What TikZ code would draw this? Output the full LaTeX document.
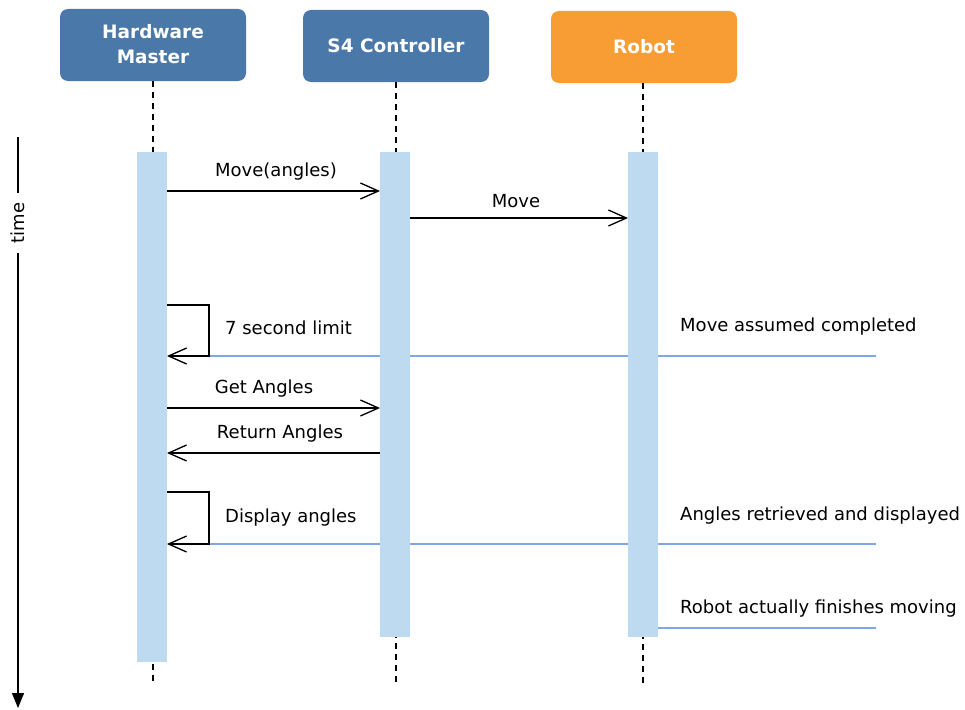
\documentclass[tikz,border=0pt]{standalone}
\usepackage{fontspec}
\setmainfont{DejaVu Sans}
\usetikzlibrary{arrows.meta}
\definecolor{hwblue}{HTML}{4A78A8}
\definecolor{robotorange}{HTML}{F79D33}
\definecolor{actbar}{HTML}{BDDAF0}
\definecolor{noteline}{HTML}{7FA6E6}
\tikzset{
  x=1pt, y=-1pt,
  actor/.style={text=white, font=\bfseries\fontsize{18.5}{25}\selectfont, align=center, inner sep=0pt},
  lifeline/.style={line width=1.2pt, dash pattern=on 6pt off 5pt},
  actbox/.style={fill=actbar, draw=none},
  msg/.style={line width=1.3pt, -{Straight Barb[length=18pt,width=16pt,line width=1.3pt]}},
  lbl/.style={font=\fontsize{18}{22}\selectfont, inner sep=0pt},
  note/.style={draw=noteline, line width=1.2pt},
}
\begin{document}
\begin{tikzpicture}
\useasboundingbox (0,0) rectangle (965,709);

% participants
\fill[hwblue, rounded corners=8pt] (60,9) rectangle (246,81);
\node[actor] (hm) at (153,44) {Hardware\\Master};
\fill[hwblue, rounded corners=8pt] (303,10) rectangle (489,82);
\node[actor] (s4) at (396,46) {S4 Controller};
\fill[robotorange, rounded corners=8pt] (551,11) rectangle (737,83);
\node[actor] (rb) at (644,47) {Robot};

% lifelines
\coordinate (hmtop) at (153,81);  \coordinate (hmbot) at (153,683);
\coordinate (s4top) at (396,82);  \coordinate (s4bot) at (396,683);
\coordinate (rbtop) at (643,83);  \coordinate (rbbot) at (643,683);
\draw[lifeline] (hmtop) -- (hmbot);
\draw[lifeline] (s4top) -- (s4bot);
\draw[lifeline] (rbtop) -- (rbbot);

% note lines (behind the activation bars)
\coordinate (n1a) at (209,356); \coordinate (n1b) at (876,356);
\coordinate (n2a) at (209,544); \coordinate (n2b) at (876,544);
\coordinate (n3a) at (658,628); \coordinate (n3b) at (876,628);
\draw[note] (n1a) -- (n1b);
\draw[note] (n2a) -- (n2b);
\draw[note] (n3a) -- (n3b);

% activation bars
\fill[actbox] (137,152) rectangle (167,662);
\fill[actbox] (380,152) rectangle (410,637);
\fill[actbox] (628,152) rectangle (658,637);

% time axis
\coordinate (t0) at (18,137);
\node[lbl, rotate=90, fill=white, inner xsep=9pt, inner ysep=1pt] (time) at (18,223) {time};
\coordinate (t1) at (18,708);
\draw[line width=1.3pt] (t0) -- (time.east);
\draw[line width=1.3pt, -{Triangle[length=15pt,width=12pt]}] (time.west) -- (t1);

% messages
\coordinate (m1a) at (167,191); \coordinate (m1b) at (380,191);
\draw[msg] (m1a) -- (m1b);
\node[lbl] (l1) at (276,172) {Move(angles)};

\coordinate (m2a) at (410,218); \coordinate (m2b) at (628,218);
\draw[msg] (m2a) -- (m2b);
\node[lbl] (l2) at (516,201) {Move};

\coordinate (s1a) at (167,305); \coordinate (s1b) at (167,356);
\draw[msg] (s1a) -- (209,305) -- (209,356) -- (s1b);
\node[lbl, anchor=west] (l3) at (225,328) {7 second limit};
\node[lbl, anchor=west] (l4) at (680,327) {Move assumed completed};

\coordinate (m3a) at (167,408); \coordinate (m3b) at (380,408);
\draw[msg] (m3a) -- (m3b);
\node[lbl] (l5) at (264,389) {Get Angles};

\coordinate (m4a) at (380,453); \coordinate (m4b) at (167,453);
\draw[msg] (m4a) -- (m4b);
\node[lbl] (l6) at (280,434) {Return Angles};

\coordinate (s2a) at (167,492); \coordinate (s2b) at (167,544);
\draw[msg] (s2a) -- (209,492) -- (209,544) -- (s2b);
\node[lbl, anchor=west] (l7) at (225,518) {Display angles};
\node[lbl, anchor=west] (l8) at (680,516) {Angles retrieved and displayed};

\node[lbl, anchor=west] (l9) at (680,609) {Robot actually finishes moving};
\end{tikzpicture}
\end{document}
